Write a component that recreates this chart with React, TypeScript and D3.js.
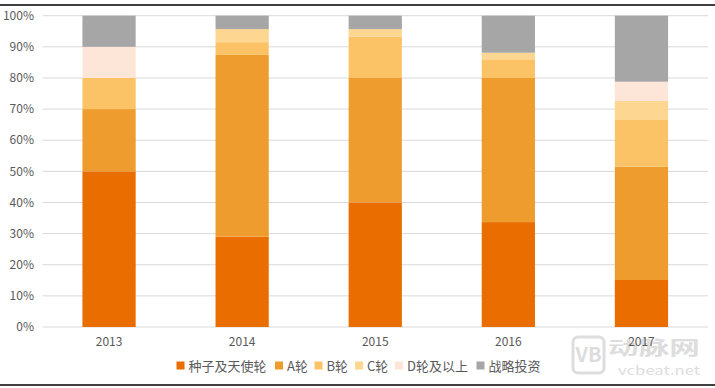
import React from "react";
import * as d3 from "d3";

const years = ["2013", "2014", "2015", "2016", "2017"];
const seriesNames = ["种子及天使轮", "A轮", "B轮", "C轮", "D轮及以上", "战略投资"];
const seedAngel = [50, 29, 40, 33.7, 15.1];
const roundA = [20, 58.4, 40, 46.3, 36.4];
const roundB = [10, 4.1, 13.3, 6, 15];
const roundC = [0, 4.2, 2.4, 2.1, 6.1];
const roundD = [10, 0, 0, 0, 6.2];
const strategic = [10, 4.3, 4.3, 11.9, 21.2];
const yTicks = [0, 10, 20, 30, 40, 50, 60, 70, 80, 90, 100];
const colors = ["#EA6D00", "#EF9C2E", "#FCC366", "#FDD692", "#FDE6D8", "#A6A6A6"];

const W = 715;
const H = 388;
const FONT = "'Noto Sans CJK SC', 'Noto Sans', sans-serif";

export default function App() {
  const seriesValues = [seedAngel, roundA, roundB, roundC, roundD, strategic];
  const table = years.map((y, i) => {
    const row: any = { year: y };
    seriesNames.forEach((s, k) => (row[s] = seriesValues[k][i]));
    return row;
  });
  const stack = d3.stack<any>().keys(seriesNames)(table);

  const x = d3.scaleBand().domain(years).range([42.5, 708]).paddingInner(0.6).paddingOuter(0.3);
  const y = d3.scaleLinear().domain([0, 100]).range([327, 15.7]);

  const legendX = [176.5, 275, 314.5, 355, 395, 476.5];

  return (
    <div style={{ position: "fixed", left: 0, top: 0, width: W, height: H, background: "#fff" }}>
      <svg width={W} height={H} style={{ display: "block" }} fontFamily={FONT}>
        <rect x={0} y={0} width={W} height={H} fill="#fff" />
        <line x1={0} x2={W} y1={5} y2={5} stroke="#000" strokeWidth={1.6} />
        <line x1={0} x2={W} y1={385} y2={385} stroke="#000" strokeWidth={1.6} />
        {yTicks.map((t) => (
          <g key={t}>
            <line x1={42.5} x2={708} y1={y(t)} y2={y(t)} stroke="#D9D9D9" strokeWidth={1} />
            <text x={34} y={y(t)} dy="0.35em" textAnchor="end" fontSize={12} fill="#595959">
              {t}%
            </text>
          </g>
        ))}
        {/* watermark */}
        <g>
          <rect x={573} y={337} width={31} height={36} rx={5} fill="none" stroke="#DDDDDD" strokeWidth={3} />
          <text x={588.5} y={362} textAnchor="middle" fontSize={20} fontWeight="bold" fill="#DDDDDD">
            VB
          </text>
          <text
            x={608}
            y={355}
            fontSize={19}
            fontWeight="bold"
            fill="#DDDDDD"
            textLength={92}
            lengthAdjust="spacingAndGlyphs"
          >
            动脉网
          </text>
          <text x={618} y={375} fontSize={13} fill="#DDDDDD" textLength={82} lengthAdjust="spacingAndGlyphs">
            vcbeat.net
          </text>
        </g>
        {stack.map((layer, k) => (
          <g key={layer.key} fill={colors[k]}>
            {layer.map((d, i) => (
              <rect
                key={i}
                x={x(years[i])}
                width={x.bandwidth()}
                y={y(d[1])}
                height={Math.max(0, y(d[0]) - y(d[1]))}
              />
            ))}
          </g>
        ))}
        {years.map((yr) => (
          <text
            key={yr}
            x={(x(yr) as number) + x.bandwidth() / 2}
            y={342}
            dy="0.35em"
            textAnchor="middle"
            fontSize={12}
            fill="#595959"
          >
            {yr}
          </text>
        ))}
        {seriesNames.map((s, k) => (
          <g key={s}>
            <rect x={legendX[k]} y={361.5} width={8} height={8} fill={colors[k]} />
            <text x={legendX[k] + 12} y={366} dy="0.35em" fontSize={13} fill="#595959">
              {s}
            </text>
          </g>
        ))}
      </svg>
    </div>
  );
}
